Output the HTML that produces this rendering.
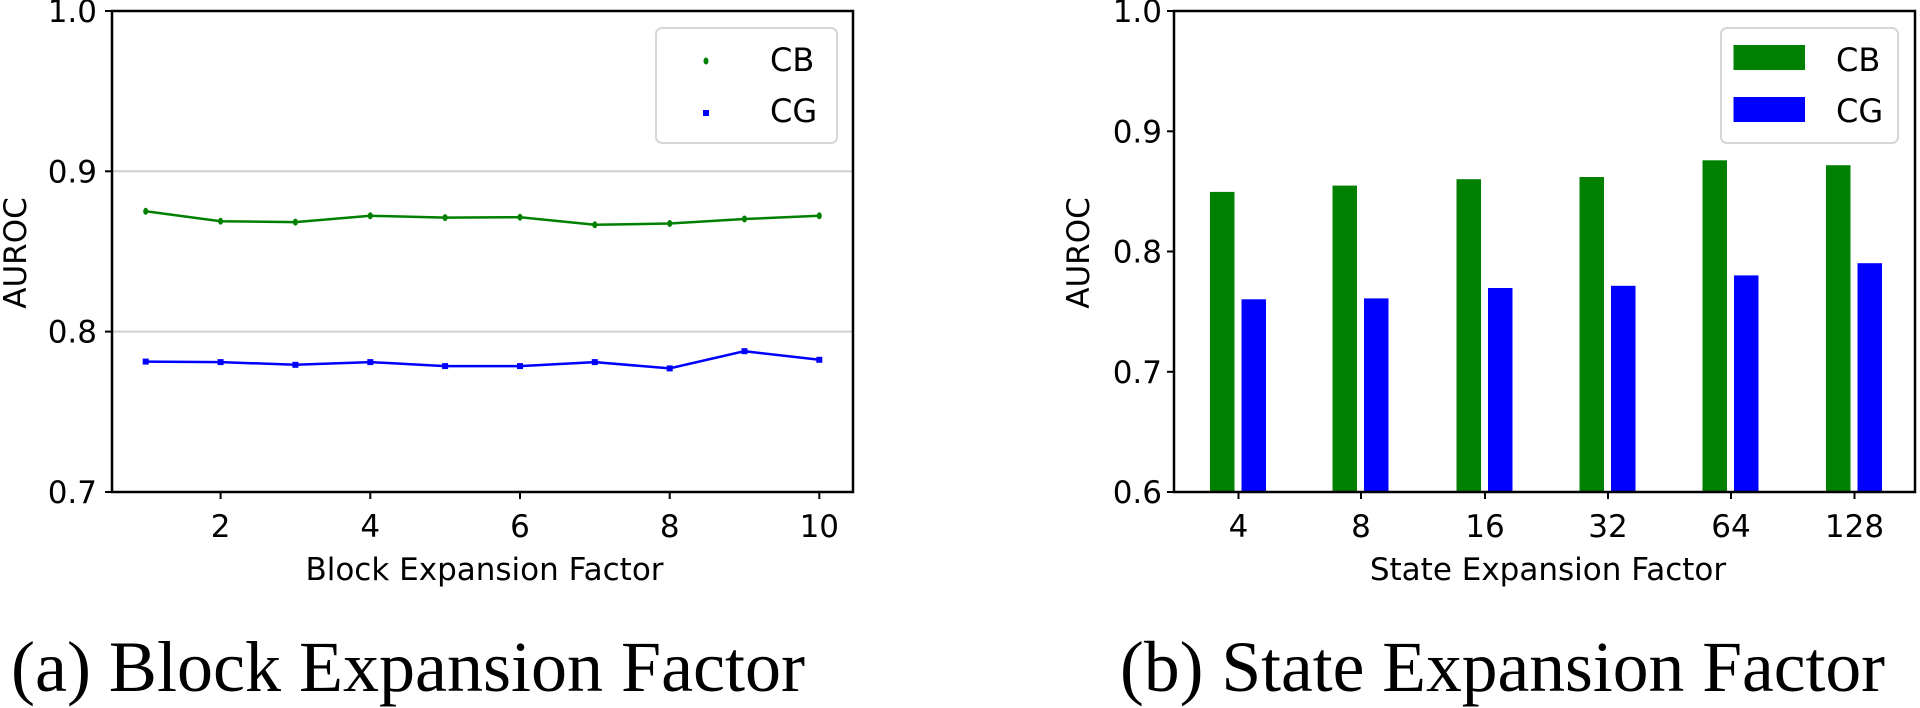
<!DOCTYPE html>
<html><head><meta charset="utf-8"><style>
html,body{margin:0;padding:0;background:#fff;}
svg{display:block;}
text{font-family:"DejaVu Sans","Liberation Sans",sans-serif;fill:#000;}
.cap{font-family:"Liberation Serif",serif;}
</style></head><body>
<svg width="1920" height="708" viewBox="0 0 1920 708" xmlns="http://www.w3.org/2000/svg">
<!-- LEFT PLOT -->
<line x1="112" y1="171.3" x2="853" y2="171.3" stroke="#cfcfcf" stroke-width="2"/>
<line x1="112" y1="331.6" x2="853" y2="331.6" stroke="#cfcfcf" stroke-width="2"/>
<polyline fill="none" stroke="#008000" stroke-width="2.5" points="145.7,211.3 220.6,221.2 295.4,222.1 370.3,215.8 445.1,217.6 520,217.2 594.8,224.8 669.7,223.5 744.5,219 819.3,215.8"/>
<g fill="#008000">
<ellipse cx="145.7" cy="211.3" rx="2.5" ry="3.5"/><ellipse cx="220.6" cy="221.2" rx="2.5" ry="3.5"/><ellipse cx="295.4" cy="222.1" rx="2.5" ry="3.5"/><ellipse cx="370.3" cy="215.8" rx="2.5" ry="3.5"/><ellipse cx="445.1" cy="217.6" rx="2.5" ry="3.5"/><ellipse cx="520" cy="217.2" rx="2.5" ry="3.5"/><ellipse cx="594.8" cy="224.8" rx="2.5" ry="3.5"/><ellipse cx="669.7" cy="223.5" rx="2.5" ry="3.5"/><ellipse cx="744.5" cy="219" rx="2.5" ry="3.5"/><ellipse cx="819.3" cy="215.8" rx="2.5" ry="3.5"/>
</g>
<polyline fill="none" stroke="#0000ff" stroke-width="2.5" points="145.7,361.6 220.6,362.1 295.4,364.8 370.3,362.1 445.1,366.1 520,366.1 594.8,362.1 669.7,368.4 744.5,351.2 819.3,359.8"/>
<g fill="#0000ff">
<rect x="142.7" y="358.6" width="6" height="6"/><rect x="217.6" y="359.1" width="6" height="6"/><rect x="292.4" y="361.8" width="6" height="6"/><rect x="367.3" y="359.1" width="6" height="6"/><rect x="442.1" y="363.1" width="6" height="6"/><rect x="517" y="363.1" width="6" height="6"/><rect x="591.8" y="359.1" width="6" height="6"/><rect x="666.7" y="365.4" width="6" height="6"/><rect x="741.5" y="348.2" width="6" height="6"/><rect x="816.3" y="356.8" width="6" height="6"/>
</g>
<rect x="112" y="11" width="741" height="481" fill="none" stroke="#000" stroke-width="2.5"/>
<g stroke="#000" stroke-width="2">
<line x1="105" y1="11" x2="112" y2="11"/><line x1="105" y1="171.3" x2="112" y2="171.3"/><line x1="105" y1="331.6" x2="112" y2="331.6"/><line x1="105" y1="492" x2="112" y2="492"/>
<line x1="220.6" y1="492" x2="220.6" y2="499"/><line x1="370.3" y1="492" x2="370.3" y2="499"/><line x1="520" y1="492" x2="520" y2="499"/><line x1="669.7" y1="492" x2="669.7" y2="499"/><line x1="819.3" y1="492" x2="819.3" y2="499"/>
</g>
<g font-size="31" text-anchor="end">
<text x="97" y="22">1.0</text><text x="97" y="182.3">0.9</text><text x="97" y="342.6">0.8</text><text x="97" y="503">0.7</text>
</g>
<g font-size="31" text-anchor="middle">
<text x="220.6" y="537">2</text><text x="370.3" y="537">4</text><text x="520" y="537">6</text><text x="669.7" y="537">8</text><text x="819.3" y="537">10</text>
<text x="484.5" y="580">Block Expansion Factor</text>
<text transform="translate(26,253) rotate(-90)">AUROC</text>
</g>
<rect x="656" y="28" width="181" height="115" rx="6" fill="#fff" stroke="#d6d6d6" stroke-width="2"/>
<ellipse cx="706" cy="61" rx="2.5" ry="3.5" fill="#008000"/>
<rect x="703" y="110" width="6" height="6" fill="#0000ff"/>
<g font-size="32"><text x="770" y="71">CB</text><text x="770" y="122">CG</text></g>

<!-- RIGHT PLOT -->
<g fill="#008000">
<rect x="1210" y="191.9" width="24.5" height="300.1"/>
<rect x="1332.5" y="185.6" width="24.5" height="306.4"/>
<rect x="1456.5" y="179.2" width="24.5" height="312.8"/>
<rect x="1579.5" y="177" width="24.5" height="315"/>
<rect x="1702.5" y="160.3" width="24.5" height="331.7"/>
<rect x="1826" y="165.2" width="24.5" height="326.8"/>
</g>
<g fill="#0000ff">
<rect x="1241.5" y="299.3" width="24.5" height="192.7"/>
<rect x="1364" y="298.4" width="24.5" height="193.6"/>
<rect x="1488" y="288" width="24.5" height="204"/>
<rect x="1611" y="285.8" width="24.5" height="206.2"/>
<rect x="1734" y="275.4" width="24.5" height="216.6"/>
<rect x="1857.5" y="263.2" width="24.5" height="228.8"/>
</g>
<rect x="1174" y="11" width="741" height="481" fill="none" stroke="#000" stroke-width="2.5"/>
<g stroke="#000" stroke-width="2">
<line x1="1167" y1="11" x2="1174" y2="11"/><line x1="1167" y1="131.3" x2="1174" y2="131.3"/><line x1="1167" y1="251.5" x2="1174" y2="251.5"/><line x1="1167" y1="371.8" x2="1174" y2="371.8"/><line x1="1167" y1="492" x2="1174" y2="492"/>
<line x1="1238.5" y1="492" x2="1238.5" y2="499"/><line x1="1361" y1="492" x2="1361" y2="499"/><line x1="1485" y1="492" x2="1485" y2="499"/><line x1="1608" y1="492" x2="1608" y2="499"/><line x1="1731" y1="492" x2="1731" y2="499"/><line x1="1854.5" y1="492" x2="1854.5" y2="499"/>
</g>
<g font-size="31" text-anchor="end">
<text x="1162" y="22">1.0</text><text x="1162" y="142.3">0.9</text><text x="1162" y="262.5">0.8</text><text x="1162" y="382.8">0.7</text><text x="1162" y="503">0.6</text>
</g>
<g font-size="31" text-anchor="middle">
<text x="1238.5" y="537">4</text><text x="1361" y="537">8</text><text x="1485" y="537">16</text><text x="1608" y="537">32</text><text x="1731" y="537">64</text><text x="1854.5" y="537">128</text>
<text x="1548" y="580">State Expansion Factor</text>
<text transform="translate(1089,253) rotate(-90)">AUROC</text>
</g>
<rect x="1721" y="28" width="177" height="115" rx="6" fill="#fff" stroke="#d6d6d6" stroke-width="2"/>
<rect x="1733.5" y="45" width="71.5" height="25" fill="#008000"/>
<rect x="1733.5" y="97" width="71.5" height="25" fill="#0000ff"/>
<g font-size="32"><text x="1836" y="71">CB</text><text x="1836" y="122">CG</text></g>

<!-- CAPTIONS -->
<text class="cap" x="11" y="691" font-size="72" textLength="794" lengthAdjust="spacingAndGlyphs">(a) Block Expansion Factor</text>
<text class="cap" x="1120" y="691" font-size="72" textLength="765" lengthAdjust="spacingAndGlyphs">(b) State Expansion Factor</text>
</svg>
</body></html>
